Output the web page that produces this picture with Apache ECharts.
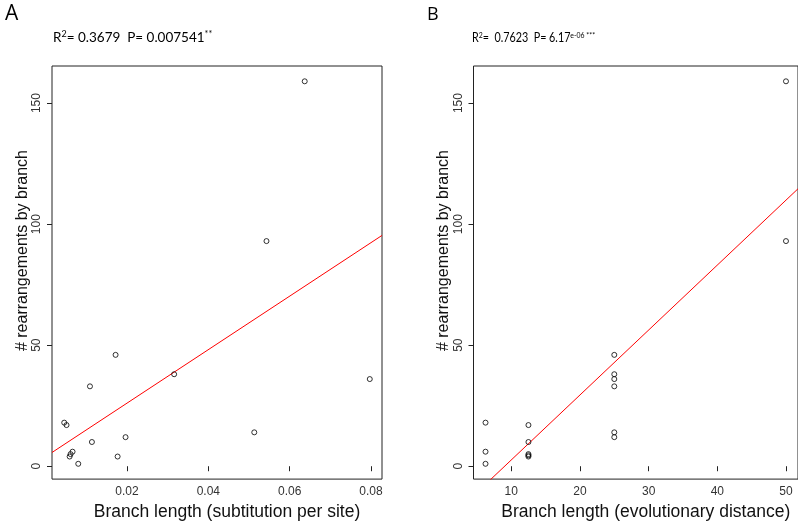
<!DOCTYPE html>
<html>
<head>
<meta charset="utf-8">
<script src="https://cdn.jsdelivr.net/npm/echarts@6/dist/echarts.min.js"></script>
<style>
  html, body { margin: 0; padding: 0; background: #fff; }
  #chart { width: 798px; height: 526px; }
</style>
</head>
<body>
<div id="chart"></div>
<script>
// Panel A: branch length in substitutions per site vs. rearrangements
const substitutionLength = [0.0637, 0.0543, 0.0172, 0.0316, 0.0797, 0.0109, 0.00457, 0.00514,
                            0.0513, 0.01965, 0.01138, 0.00662, 0.00613, 0.00590, 0.0177, 0.00802];
const rearrangementsA    = [159, 93, 46, 38, 36, 33, 18, 17, 14, 12, 10, 6, 5, 4, 4, 1];

// Panel B: branch length as evolutionary distance vs. rearrangements
const evolutionaryDistance = [50, 50, 25, 25, 25, 25, 25, 25, 12.5, 12.5, 12.5, 12.5, 12.5, 6.25, 6.25, 6.25];
const rearrangementsB      = [159, 93, 46, 38, 36, 33, 14, 12, 17, 10, 5, 4.5, 4, 18, 6, 1];

// Linear fits (intercept, slope)
const fitA = { intercept: 3.95, slope: 1105 };
const fitB = { intercept: -24.24, slope: 2.683 };

// Tick values
const xTicksA = [0.02, 0.04, 0.06, 0.08];
const xTicksB = [10, 20, 30, 40, 50];
const yTicks  = [0, 50, 100, 150];

// Statistics annotations
const statsA = { r2: '0.3679', p: '0.007541', stars: '**' };
const statsB = { r2: '0.7623', p: '6.17', pExp: 'e-06', stars: '***' };

// R-style axis range: data range padded by 4% on each side
function paddedRange(values) {
  const lo = Math.min(...values), hi = Math.max(...values);
  const pad = (hi - lo) * 0.04;
  return [lo - pad, hi + pad];
}

const [xMinA, xMaxA] = paddedRange(substitutionLength);
const [xMinB, xMaxB] = paddedRange(evolutionaryDistance);
const [yMin, yMax]   = paddedRange(rearrangementsA.concat(rearrangementsB));

const zip = (xs, ys) => xs.map((x, i) => [x, ys[i]]);
const fitLine = (fit, lo, hi) => [[lo, fit.intercept + fit.slope * lo], [hi, fit.intercept + fit.slope * hi]];

const tickFont = 'Liberation Sans, Arial, sans-serif';
const textFont = 'Lato, Open Sans, sans-serif';
const letterFont = 'Open Sans, sans-serif';

function xAxisDef(gridIndex, min, max, ticks, name, fmt) {
  return {
    type: 'value', gridIndex, min, max, name,
    nameLocation: 'middle', nameGap: 18,
    nameTextStyle: { fontFamily: tickFont, fontSize: 17.5, color: '#111', padding: [0, 0, 0, 20] },
    axisLine: { show: false },
    axisTick: { show: true, length: 5, customValues: ticks, lineStyle: { color: '#222' } },
    axisLabel: { customValues: ticks, margin: 7, fontFamily: tickFont, fontSize: 12, color: '#333', formatter: fmt },
    splitLine: { show: false }
  };
}

function yAxisDef(gridIndex) {
  return {
    type: 'value', gridIndex, min: yMin, max: yMax,
    name: '# rearrangements by branch',
    nameLocation: 'middle', nameGap: 19, nameRotate: 90,
    nameTextStyle: { fontFamily: tickFont, fontSize: 16, color: '#111', padding: [0, 0, 0, 44] },
    axisLine: { show: false },
    axisTick: { show: true, length: 5, customValues: yTicks, lineStyle: { color: '#222' } },
    axisLabel: { customValues: yTicks, margin: 9, rotate: 90, fontFamily: tickFont, fontSize: 12, color: '#333' },
    splitLine: { show: false }
  };
}

const pointStyle = { color: 'rgba(0,0,0,0)', borderColor: '#000', borderWidth: 1 };

// Superscript-capable text styles for the two stats lines
function statsRich(size) {
  return {
    base: { fontFamily: textFont, fontSize: size, color: '#111' },
    sup:  { fontFamily: textFont, fontSize: Math.round(size * 0.63), color: '#111', padding: [0, 0, Math.round(size * 0.5), 0] }
  };
}

const chart = echarts.init(document.getElementById('chart'), null, { renderer: 'canvas' });
chart.setOption({
  backgroundColor: '#fff',
  animation: false,
  grid: [
    { left: 52, top: 66, width: 330, height: 417, show: true, borderColor: '#222', borderWidth: 1, backgroundColor: 'transparent' },
    { left: 473.5, top: 66, width: 330, height: 417, show: true, borderColor: '#222', borderWidth: 1, backgroundColor: 'transparent' }
  ],
  xAxis: [
    xAxisDef(0, xMinA, xMaxA, xTicksA, 'Branch length (subtitution per site)', v => v.toFixed(2)),
    xAxisDef(1, xMinB, xMaxB, xTicksB, 'Branch length (evolutionary distance)', v => String(v))
  ],
  yAxis: [yAxisDef(0), yAxisDef(1)],
  graphic: [
    { type: 'text', left: 5, top: 4, style: { text: 'A', font: '21px ' + letterFont, fill: '#000' } },
    { type: 'text', left: 427, top: 6, style: { text: 'B', font: '18px ' + letterFont, fill: '#000' } },
    { type: 'text', left: 53, top: 30, style: {
        text: '{base|R}{sup|2}{base|= ' + statsA.r2 + '  P= ' + statsA.p + '}{sup|' + statsA.stars + '}',
        rich: statsRich(13.5) } },
    { type: 'text', x: 472, y: 31, scaleX: 0.86, style: {
        text: '{base|R}{sup|2}{base|=  ' + statsB.r2 + '  P= ' + statsB.p + '}{sup|' + statsB.pExp + ' ' + statsB.stars + '}',
        rich: statsRich(12.5) } }
  ],
  series: [
    { type: 'scatter', xAxisIndex: 0, yAxisIndex: 0, data: zip(substitutionLength, rearrangementsA),
      symbol: 'circle', symbolSize: 5, itemStyle: pointStyle, z: 3 },
    { type: 'line', xAxisIndex: 0, yAxisIndex: 0, data: fitLine(fitA, xMinA, xMaxA),
      symbol: 'none', clip: true, lineStyle: { color: '#ff0000', width: 1 }, z: 2 },
    { type: 'scatter', xAxisIndex: 1, yAxisIndex: 1, data: zip(evolutionaryDistance, rearrangementsB),
      symbol: 'circle', symbolSize: 5, itemStyle: pointStyle, z: 3 },
    { type: 'line', xAxisIndex: 1, yAxisIndex: 1, data: fitLine(fitB, xMinB, xMaxB),
      symbol: 'none', clip: true, lineStyle: { color: '#ff0000', width: 1 }, z: 2 }
  ]
});
</script>
</body>
</html>
